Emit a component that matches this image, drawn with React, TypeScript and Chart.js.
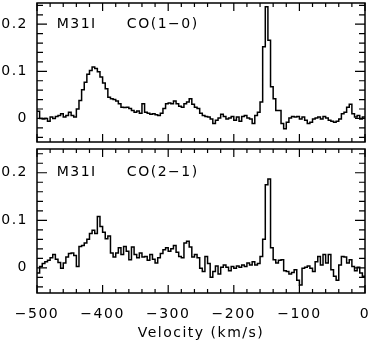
import React, { useEffect, useRef } from "react";
import { Chart, registerables } from "chart.js";
Chart.register(...registerables);

// Velocity grid (left edge of first channel, channel width in km/s)
const V_START = -500;
const CHANNEL_WIDTH = 4;

// CO(1-0) spectrum, one value per channel (K)
const CO10 = [
  0.015, 0.0, -0.001, 0.0, -0.006, 0.003, 0.0, 0.004, 0.006, 0.01,
  0.003, 0.006, 0.013, 0.006, 0.003, 0.02, 0.038, 0.061, 0.077, 0.094,
  0.102, 0.109, 0.106, 0.099, 0.088, 0.075, 0.063, 0.045, 0.042, 0.04,
  0.037, 0.031, 0.024, 0.023, 0.024, 0.021, 0.017, 0.013, 0.016, 0.011,
  0.031, 0.013, 0.011, 0.009, 0.01, 0.008, 0.006, 0.011, 0.021, 0.031,
  0.033, 0.031, 0.037, 0.031, 0.026, 0.024, 0.031, 0.035, 0.042, 0.03,
  0.024, 0.021, 0.011, 0.006, 0.004, 0.003, -0.001, -0.011, -0.004, 0.001,
  0.009, 0.004, -0.001, 0.001, 0.004, -0.004, 0.003, -0.006, 0.004, 0.006,
  0.001, -0.001, -0.011, 0.006, 0.013, 0.035, 0.152, 0.237, 0.166, 0.067,
  0.042, 0.017, 0.017, -0.011, -0.022, -0.008, 0.001, 0.004, 0.003, 0.004,
  -0.001, 0.003, -0.004, -0.011, -0.008, -0.001, 0.001, 0.003, -0.001, 0.004,
  0.001, -0.004, -0.006, -0.008, -0.006, -0.001, 0.01, 0.013, 0.024, 0.03,
  0.01, 0.003, 0.006, -0.001, 0.003,
];

// CO(2-1) spectrum
const CO21 = [
  -0.011, 0.003, 0.009, 0.013, 0.016, 0.021, 0.028, 0.018, 0.011, -0.001,
  0.01, 0.023, 0.03, 0.031, 0.026, 0.003, 0.045, 0.047, 0.052, 0.06,
  0.072, 0.079, 0.072, 0.108, 0.087, 0.075, 0.061, 0.067, 0.031, 0.023,
  0.031, 0.042, 0.028, 0.045, 0.035, 0.017, 0.044, 0.028, 0.021, 0.031,
  0.023, 0.024, 0.016, 0.028, 0.018, 0.01, 0.021, 0.03, 0.038, 0.042,
  0.035, 0.04, 0.047, 0.033, 0.024, 0.021, 0.052, 0.056, 0.044, 0.023,
  0.028, 0.021, -0.001, -0.008, 0.024, 0.009, -0.02, -0.008, 0.004, -0.013,
  0.001, 0.006, 0.001, -0.006, 0.003, -0.001, 0.004, 0.001, 0.006, 0.003,
  0.01, 0.006, 0.013, 0.006, 0.009, 0.024, 0.06, 0.175, 0.187, 0.042,
  0.017, 0.01, 0.016, 0.017, -0.006, -0.008, -0.013, -0.01, -0.004, -0.026,
  -0.036, -0.001, 0.001, 0.004, -0.001, -0.008, 0.013, 0.024, 0.006, 0.028,
  0.01, 0.028, -0.004, -0.018, -0.026, 0.006, 0.024, 0.023, 0.01, 0.017,
  0.003, -0.006, 0.001, -0.011, -0.018,
];

const X_LABEL_TICKS = [-500, -400, -300, -200, -100, 0];
const Y_LABEL_TICKS = [0, 0.1, 0.2];
const X_MIN = -500;
const X_MAX = 0;
const X_MINOR = 20;
const X_MAJOR = 100;
const Y_MINOR = 0.02;

const FONT = '"DejaVu Sans", sans-serif';
const FONT_SIZE = 14;
const LETTER_SPACING = "1.5px";

function toPoints(values: number[]) {
  const pts = values.map((y, i) => ({ x: V_START + i * CHANNEL_WIDTH, y }));
  pts.push({ x: V_START + values.length * CHANNEL_WIDTH, y: values[values.length - 1] });
  return pts;
}

const spacingPlugin = {
  id: "spacing",
  beforeLayout(chart: any) {
    chart.ctx.letterSpacing = LETTER_SPACING;
  },
  beforeDraw(chart: any) {
    chart.ctx.letterSpacing = LETTER_SPACING;
  },
};

const framePlugin = {
  id: "frame",
  afterDatasetsDraw(chart: any, _args: any, opts: any) {
    const { ctx, chartArea: a, scales } = chart;
    const xs = scales.x;
    const ys = scales.y;
    ctx.save();
    ctx.strokeStyle = "#000";
    ctx.lineWidth = 1.5;
    ctx.strokeRect(a.left, a.top, a.right - a.left, a.bottom - a.top);
    ctx.lineWidth = 1.2;
    ctx.beginPath();
    const nx = Math.round((X_MAX - X_MIN) / X_MINOR);
    for (let k = 0; k <= nx; k++) {
      const v = X_MIN + k * X_MINOR;
      const px = xs.getPixelForValue(v);
      const L = Math.abs(v % X_MAJOR) < 1e-6 ? 8 : 4;
      ctx.moveTo(px, a.top);
      ctx.lineTo(px, a.top + L);
      ctx.moveTo(px, a.bottom);
      ctx.lineTo(px, a.bottom - L);
    }
    for (let k = -5; k <= 15; k++) {
      const v = k * Y_MINOR;
      if (v < ys.min || v > ys.max) continue;
      const py = ys.getPixelForValue(v);
      const L = k % 5 === 0 ? 10 : 6;
      ctx.moveTo(a.left, py);
      ctx.lineTo(a.left + L, py);
      ctx.moveTo(a.right, py);
      ctx.lineTo(a.right - L, py);
    }
    ctx.stroke();
    ctx.fillStyle = "#000";
    ctx.font = FONT_SIZE + "px " + FONT;
    ctx.letterSpacing = LETTER_SPACING;
    ctx.textBaseline = "middle";
    ctx.textAlign = "left";
    const ly = ys.getPixelForValue(opts.labelY);
    ctx.fillText(opts.name, xs.getPixelForValue(opts.nameX), ly);
    ctx.fillText(opts.line, xs.getPixelForValue(opts.lineX), ly);
    ctx.restore();
  },
};

function makeConfig(values: number[], yMin: number, yMax: number, line: string, bottom: boolean, padding: any): any {
  const font = { family: FONT, size: FONT_SIZE };
  return {
    type: "line",
    data: {
      datasets: [
        {
          data: toPoints(values),
          borderColor: "#000",
          borderWidth: 1.5,
          pointRadius: 0,
          stepped: true,
          fill: false,
        },
      ],
    },
    plugins: [spacingPlugin, framePlugin],
    options: {
      responsive: false,
      animation: false,
      layout: { padding },
      plugins: {
        legend: { display: false },
        tooltip: { enabled: false },
        frame: { name: "M31I", line, nameX: -470, lineX: -363, labelY: 0.2 },
      },
      scales: {
        x: {
          type: "linear",
          min: X_MIN,
          max: X_MAX,
          display: bottom,
          grid: { display: false, drawTicks: false },
          border: { display: false },
          ticks: {
            padding: 13,
            font,
            color: "#000",
            maxRotation: 0,
            autoSkip: false,
            callback: (v: number) => (v < 0 ? "\u2212" + Math.abs(v) : String(v)),
          },
          afterBuildTicks: (s: any) => {
            s.ticks = X_LABEL_TICKS.map((v) => ({ value: v }));
          },
          title: {
            display: bottom,
            text: "Velocity (km/s)",
            font,
            color: "#000",
            padding: { top: 0, bottom: 1 },
          },
          afterFit: (s: any) => {
            s.height = bottom ? 50 : 0;
            s.paddingLeft = 0;
            s.paddingRight = 0;
          },
        },
        y: {
          min: yMin,
          max: yMax,
          grid: { display: false, drawTicks: false },
          border: { display: false },
          ticks: {
            padding: 9,
            font,
            color: "#000",
            callback: (v: number) => (v === 0 ? "0" : String(v)),
          },
          afterBuildTicks: (s: any) => {
            s.ticks = Y_LABEL_TICKS.map((v) => ({ value: v }));
          },
          afterFit: (s: any) => {
            s.width = 37;
            s.paddingTop = 0;
            s.paddingBottom = 0;
          },
        },
      },
    },
  };
}

export default function App() {
  const topRef = useRef<HTMLCanvasElement>(null);
  const botRef = useRef<HTMLCanvasElement>(null);
  useEffect(() => {
    const c1 = new Chart(
      topRef.current as HTMLCanvasElement,
      makeConfig(CO10, -0.05, 0.245, "CO(1\u22120)", false, { top: 3, right: 5, bottom: 4, left: 0 })
    );
    const c2 = new Chart(
      botRef.current as HTMLCanvasElement,
      makeConfig(CO21, -0.053, 0.25, "CO(2\u22121)", true, { top: 3, right: 5, bottom: 0, left: 0 })
    );
    return () => {
      c1.destroy();
      c2.destroy();
    };
  }, []);
  return (
    <div style={{ position: "fixed", left: 0, top: 0, width: 370, height: 343, background: "#fff" }}>
      <canvas ref={topRef} width={370} height={146} style={{ position: "absolute", left: 0, top: 0 }} />
      <canvas ref={botRef} width={370} height={197} style={{ position: "absolute", left: 0, top: 146 }} />
    </div>
  );
}
